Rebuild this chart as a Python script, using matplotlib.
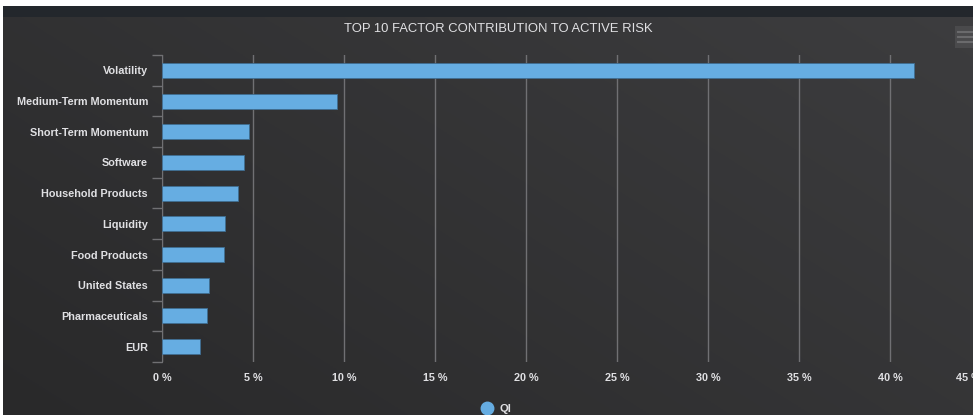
import numpy as np
import matplotlib.pyplot as plt
from matplotlib.patches import Rectangle

# data
factors = ['Volatility', 'Medium-Term Momentum', 'Short-Term Momentum', 'Software',
           'Household Products', 'Liquidity', 'Food Products', 'United States',
           'Pharmaceuticals', 'EUR']
contrib = [41.3, 9.6, 4.8, 4.5, 4.2, 3.45, 3.4, 2.6, 2.45, 2.1]
xticks = [0, 5, 10, 15, 20, 25, 30, 35, 40, 45]
series_name = 'QI'

plt.rcParams['font.family'] = ['Liberation Sans', 'DejaVu Sans']

W, H = 973, 415
fig = plt.figure(figsize=(W / 100, H / 100), dpi=100, facecolor='white')

# dark gradient background (screenshot has white strip at top and left)
bg = fig.add_axes([3 / W, 0, 1 - 3 / W, 1 - 6 / H])
bg.set_axis_off()
yy, xx = np.mgrid[0:1:200j, 0:1:400j]
t = (xx * 0.6 + (1 - yy) * 0.4)
c0 = np.array([0x29, 0x29, 0x2a]) / 255
c1 = np.array([0x3d, 0x3d, 0x3f]) / 255
img = c0[None, None, :] * (1 - t[..., None]) + c1[None, None, :] * t[..., None]
bg.imshow(img, aspect='auto', extent=[0, 1, 0, 1], origin='upper')
bg.add_patch(Rectangle((0, 1 - 11 / (H - 6)), 1, 11 / (H - 6), color='#23272c', lw=0))
bg.set_xlim(0, 1)
bg.set_ylim(0, 1)
# menu button top right
bg.add_patch(Rectangle((955 / W, 1 - 42 / (H - 6)), 25 / W, 22 / (H - 6),
                       color='#4a4a4c', lw=0))
for k in range(3):
    bg.plot([958 / W, 1.0], [1 - (26 + 5 * k) / (H - 6)] * 2, color='#6a6a6c', lw=1.5)

ax = fig.add_axes([162 / W, (H - 362) / H, (981 - 162) / W, (362 - 55) / H])
ax.set_facecolor('none')
y = np.arange(len(factors))
ax.barh(y, contrib, height=0.49, color='#66ade2', edgecolor='#3f6d91', linewidth=0.6,
        zorder=3)
ax.set_ylim(len(factors) - 0.5, -0.5)
ax.set_xlim(0, 45)
ax.set_yticks(y)
ax.set_yticklabels(factors, fontweight='bold')
ax.set_yticks(np.arange(len(factors) + 1) - 0.5, minor=True)
ax.tick_params(axis='y', which='major', length=0, pad=10, labelsize=7.8,
               labelcolor='#e0e0e3')
ax.tick_params(axis='y', which='minor', length=7, color='#707073', width=1)
ax.set_xticks(xticks)
ax.set_xticklabels([f'{v} %' for v in xticks], fontweight='bold')
ax.tick_params(axis='x', length=0, pad=8, labelsize=7.8, labelcolor='#e0e0e3')
ax.get_xticklabels()[-1].set_horizontalalignment('right')
ax.grid(axis='x', color='#707073', lw=1, zorder=0)
for s in ['top', 'right', 'bottom']:
    ax.spines[s].set_visible(False)
ax.spines['left'].set_color('#707073')

fig.text(498 / W, 1 - 29 / H, 'TOP 10 FACTOR CONTRIBUTION TO ACTIVE RISK',
         ha='center', va='center', color='#e0e0e3', fontsize=9.4)

# legend
fig.lines.append(plt.Line2D([487 / W], [1 - 408 / H], marker='o', markersize=9,
                            color='#66ade2', transform=fig.transFigure))
fig.text(500 / W, 1 - 409 / H, series_name, ha='left', va='center', color='#e0e0e3',
         fontsize=8, fontweight='bold')

fig.savefig('out.png', dpi=100, facecolor='white')
